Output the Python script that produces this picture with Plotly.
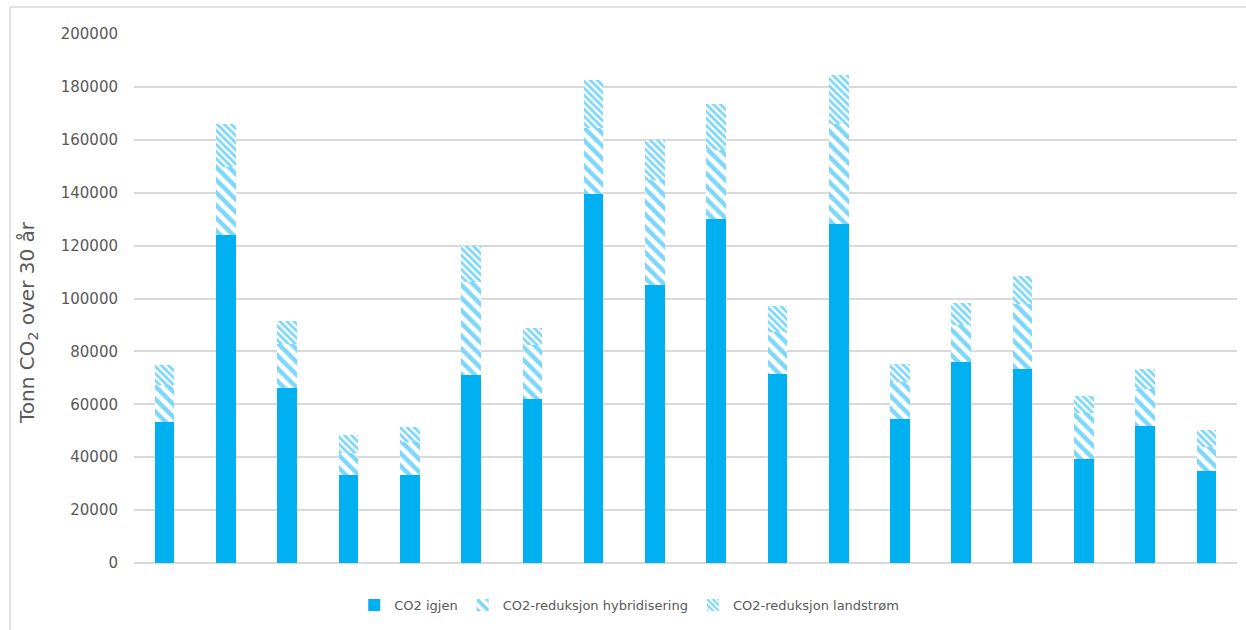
import plotly.graph_objects as go

# Eighteen vessels/routes, CO2 over 30 years (tonnes), stacked in three parts
categories = [f"{i}" for i in range(1, 19)]
co2_igjen = [53300, 123900, 66300, 33200, 33200, 71000, 61900, 139400, 105000,
             130200, 71600, 128300, 54600, 76000, 73500, 39500, 51700, 34800]
red_hybrid = [13900, 25800, 16600, 8300, 12500, 35200, 20500, 25200, 39700,
              25800, 15700, 37800, 13800, 13900, 24500, 17200, 14200, 9000]
red_land = [7500, 16400, 8500, 6800, 5700, 13500, 6600, 17900, 15100,
            17400, 9700, 18300, 7000, 8500, 10400, 6300, 7600, 6400]

y_ticks = [0, 20000, 40000, 60000, 80000, 100000, 120000, 140000, 160000, 180000, 200000]

BLUE = "#00B0F0"
TEXT = "#595959"
GRID = "#D9D9D9"
FONT = "DejaVu Sans, Verdana, sans-serif"

fig = go.Figure()
fig.add_trace(go.Bar(
    x=categories, y=co2_igjen, name="CO2 igjen",
    marker=dict(color=BLUE, line=dict(width=0)),
))
fig.add_trace(go.Bar(
    x=categories, y=red_hybrid, name="CO2-reduksjon hybridisering",
    marker=dict(color="white", line=dict(width=0),
                pattern=dict(shape="\\", fgcolor=BLUE, bgcolor="white",
                             size=9, solidity=0.5, fillmode="overlay")),
))
fig.add_trace(go.Bar(
    x=categories, y=red_land, name="CO2-reduksjon landstrøm",
    marker=dict(color="white", line=dict(width=0),
                pattern=dict(shape="\\", fgcolor=BLUE, bgcolor="white",
                             size=5, solidity=0.55, fillmode="overlay")),
))

W, H = 1246, 630
left, right, top, bottom = 134, 1237, 34, 563

fig.update_layout(
    width=W, height=H,
    barmode="stack", bargap=0.68,
    paper_bgcolor="white", plot_bgcolor="white",
    margin=dict(l=left, r=W - right, t=top, b=H - bottom, autoexpand=False),
    font=dict(family=FONT, color=TEXT, size=15),
    showlegend=True,
    legend=dict(
        orientation="h", xref="container", yref="container",
        x=0.505, xanchor="center", y=1 - 605 / H, yanchor="middle",
        font=dict(size=13, color=TEXT), itemwidth=30, traceorder="normal",
        bgcolor="rgba(0,0,0,0)",
    ),
    xaxis=dict(showticklabels=False, showgrid=False, zeroline=False,
               showline=False, ticks=""),
    yaxis=dict(
        range=[0, 200000], tickvals=y_ticks,
        ticktext=[str(v) for v in y_ticks],
        showgrid=True, gridcolor=GRID, gridwidth=2,
        zeroline=True, zerolinecolor=GRID, zerolinewidth=2,
        showline=False, ticks="", ticklabelstandoff=15,
        tickfont=dict(size=15, color=TEXT),
    ),
    annotations=[
        # vertical axis title
        dict(text="Tonn CO<sub>2</sub> over 30 år", textangle=-90,
             xref="paper", yref="paper",
             x=(28 - left) / (right - left), y=(bottom - 322) / (bottom - top),
             xanchor="center", yanchor="middle", showarrow=False,
             font=dict(size=20, color=TEXT, family=FONT)),
    ],
    shapes=[
        # light frame edges around the chart area
        dict(type="line", xref="paper", yref="paper",
             x0=(10 - left) / (right - left), x1=(W - left) / (right - left),
             y0=(bottom - 7) / (bottom - top), y1=(bottom - 7) / (bottom - top),
             line=dict(color=GRID, width=1.5)),
        dict(type="line", xref="paper", yref="paper",
             x0=(10 - left) / (right - left), x1=(10 - left) / (right - left),
             y0=(bottom - 7) / (bottom - top), y1=(bottom - H) / (bottom - top),
             line=dict(color=GRID, width=1.5)),
    ],
)

fig.write_html("out.html")
